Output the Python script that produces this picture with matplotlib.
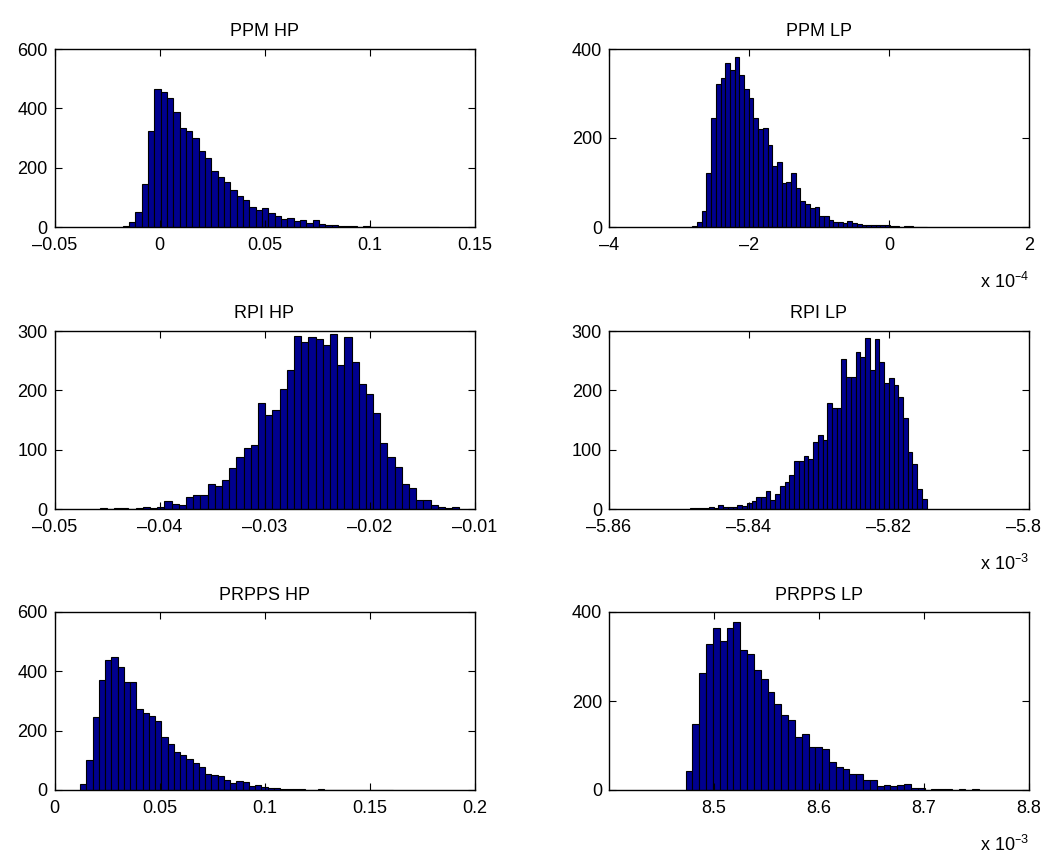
import numpy as np
import matplotlib
matplotlib.use('Agg')
import matplotlib.pyplot as plt
import matplotlib.transforms as mtransforms
from matplotlib.ticker import FuncFormatter

plt.rcParams['font.family'] = ['Liberation Sans', 'DejaVu Sans']
plt.rcParams['font.size'] = 13

# histogram counts (50 bins each), bin range (lo, hi) in displayed units
titles = ['PPM HP', 'PPM LP', 'RPI HP', 'RPI LP', 'PRPPS HP', 'PRPPS LP']

ppm_hp = [4, 18, 49, 146, 322, 464, 456, 436, 389, 334, 324, 299, 257, 232, 189,
          170, 153, 125, 103, 90, 69, 58, 64, 47, 38, 27, 32, 20, 22, 13,
          22, 11, 8, 7, 3, 4, 2, 1, 2, 1, 0, 1, 1, 0, 1, 0, 0, 0, 0, 1]
ppm_hp_range = (-0.01746, 0.1333)

ppm_lp = [3, 11, 37, 121, 244, 321, 334, 368, 353, 383, 341, 310, 291, 244, 220,
          222, 184, 138, 146, 100, 101, 121, 87, 58, 52, 43, 45, 25, 25, 16,
          12, 12, 10, 13, 10, 7, 4, 4, 4, 4, 4, 5, 3, 2, 1, 2, 2, 1, 1, 1]
ppm_lp_range = (-2.81, 0.548)  # x 1e-4

rpi_hp = [1, 0, 1, 1, 0, 2, 4, 2, 4, 13, 8, 7, 20, 23, 23, 42, 39, 49, 69, 88,
          102, 108, 179, 158, 167, 203, 235, 292, 281, 290, 287, 276, 295, 243, 290,
          247, 210, 194, 161, 112, 87, 71, 42, 36, 15, 15, 6, 4, 2, 3]
rpi_hp_range = (-0.04571, -0.01143)

rpi_lp = [1, 1, 1, 1, 3, 1, 7, 3, 3, 4, 7, 5, 10, 13, 20, 20, 30, 16, 25, 38,
          46, 57, 81, 81, 90, 84, 113, 125, 117, 178, 171, 170, 252, 222, 223,
          265, 256, 288, 235, 286, 247, 213, 220, 209, 188, 154, 96, 76, 33, 17]
rpi_lp_range = (-5.84843, -5.81462)  # x 1e-3

prpps_hp = [21, 100, 247, 371, 438, 449, 416, 365, 365, 274, 261, 249, 232, 180, 156,
            127, 117, 106, 92, 79, 55, 51, 46, 33, 25, 31, 27, 15, 17, 10,
            8, 7, 4, 3, 2, 2, 1, 1, 2, 1, 0, 1, 0, 0, 1, 0, 0, 0, 0, 1]
prpps_hp_range = (0.01222, 0.1611)

prpps_lp = [43, 148, 264, 327, 365, 335, 363, 378, 314, 305, 269, 250, 221, 194, 169,
            158, 118, 125, 97, 97, 92, 63, 52, 47, 37, 37, 22, 22, 10, 11,
            9, 12, 13, 4, 5, 1, 3, 3, 2, 1, 2, 1, 2, 1, 1, 1, 0, 1, 1, 1]
prpps_lp_range = (8.473, 8.798)  # x 1e-3

counts = [ppm_hp, ppm_lp, rpi_hp, rpi_lp, prpps_hp, prpps_lp]
ranges = [ppm_hp_range, ppm_lp_range, rpi_hp_range, rpi_lp_range, prpps_hp_range, prpps_lp_range]
xlims = [(-0.05, 0.15), (-4, 2), (-0.05, -0.01), (-5.86, -5.8), (0, 0.2), (8.4, 8.8)]
xticks = [[-0.05, 0, 0.05, 0.1, 0.15], [-4, -2, 0, 2], [-0.05, -0.04, -0.03, -0.02, -0.01],
          [-5.86, -5.84, -5.82, -5.8], [0, 0.05, 0.1, 0.15, 0.2], [8.5, 8.6, 8.7, 8.8]]
ylims = [600, 400, 300, 300, 600, 400]
ysteps = [200, 200, 100, 100, 200, 200]
exps = [None, '-4', None, '-3', None, '-3']

W, H = 1045, 856
fig = plt.figure(figsize=(W / 100, H / 100), dpi=100)
lefts = [54.5, 609]
tops = [49, 331, 612]
aw, ah = 420, 178

# MATLAB-style dash for negative numbers
fmt = FuncFormatter(lambda v, p: ('%g' % v).replace('-', '\u2013'))

for i in range(6):
    r, c = divmod(i, 2)
    ax = fig.add_axes([lefts[c] / W, 1 - (tops[r] + ah) / H, aw / W, ah / H])
    lo, hi = ranges[i]
    edges = np.linspace(lo, hi, len(counts[i]) + 1)
    ax.bar(edges[:-1], counts[i], width=np.diff(edges), align='edge',
           color='#00008F', edgecolor='black', linewidth=0.8)
    ax.set_xlim(*xlims[i])
    ax.set_ylim(0, ylims[i])
    ax.set_xticks(xticks[i])
    ax.set_yticks(np.arange(0, ylims[i] + 1, ysteps[i]))
    ax.xaxis.set_major_formatter(fmt)
    ax.tick_params(direction='in', top=True, right=True, length=5, width=0.8)
    ax.tick_params(axis='x', pad=7)
    ax.tick_params(axis='y', pad=5)
    for s in ax.spines.values():
        s.set_linewidth(1.0)
    ax.set_title(titles[i], fontsize=13, pad=9)
    if exps[i]:
        ax.text(1.0, -0.25, r'x 10$^{\mathregular{%s}}$' % exps[i].replace('-', '\u2013'),
                transform=ax.transAxes, ha='right', va='top', fontsize=13)
    if i == 3:
        # keep the last tick label inside the figure
        lab = ax.get_xticklabels()[-1]
        lab.set_transform(lab.get_transform() +
                          mtransforms.ScaledTranslation(-6 / 100, 0, fig.dpi_scale_trans))

fig.savefig('out.png', dpi=100)
